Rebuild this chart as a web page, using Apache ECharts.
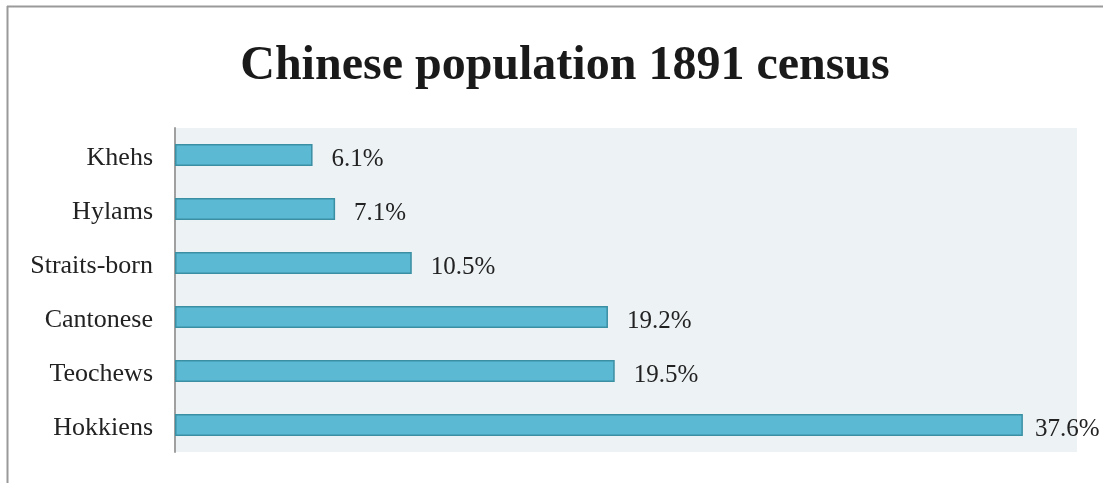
<!DOCTYPE html>
<html>
<head>
<meta charset="utf-8">
<script src="https://cdn.jsdelivr.net/npm/echarts@6/dist/echarts.min.js"></script>
<style>
  html, body { margin: 0; padding: 0; background: #fff; }
  #chart { width: 1103px; height: 483px; }
</style>
</head>
<body>
<div id="chart"></div>
<script>
// Dialect groups, listed bottom to top on the category axis
const groups = ['Hokkiens', 'Teochews', 'Cantonese', 'Straits-born', 'Hylams', 'Khehs'];
// Share of the Chinese population (%)
const shares = [37.6, 19.5, 19.2, 10.5, 7.1, 6.1];
const titleText = 'Chinese population 1891 census';

const serif = '"Liberation Serif", "DejaVu Serif", serif';
const chart = echarts.init(document.getElementById('chart'), null, { renderer: 'canvas' });

// The longest bar's label sits closer so it stays inside the canvas
const barData = shares.map(v => v === Math.max(...shares) ? { value: v, label: { distance: 12 } } : v);

chart.setOption({
  animation: false,
  backgroundColor: '#ffffff',
  title: {
    text: titleText,
    left: 560,
    textAlign: 'center',
    top: 38,
    textStyle: { fontFamily: serif, fontSize: 48, fontWeight: 'bold', color: '#1a1a1a' }
  },
  graphic: [
    { type: 'line', shape: { x1: 7, y1: 6.5, x2: 1103, y2: 6.5 }, style: { stroke: '#9a9a9a', lineWidth: 2 } },
    { type: 'line', shape: { x1: 7.5, y1: 6, x2: 7.5, y2: 483 }, style: { stroke: '#9a9a9a', lineWidth: 2 } }
  ],
  grid: {
    left: 175, top: 128, width: 902, height: 324,
    show: true, backgroundColor: '#edf2f5', borderWidth: 0
  },
  xAxis: {
    type: 'value', min: 0, max: 40,
    axisLine: { show: false }, axisTick: { show: false },
    axisLabel: { show: false }, splitLine: { show: false }
  },
  yAxis: {
    type: 'category', data: groups,
    axisLine: { show: true, lineStyle: { color: '#a0a0a0', width: 2 } },
    axisTick: { show: false },
    axisLabel: {
      margin: 22,
      formatter: v => '{c|' + v + '}',
      rich: { c: { fontFamily: serif, fontSize: 26, color: '#222', padding: [7, 0, 0, 0] } }
    }
  },
  series: [{
    type: 'bar',
    data: barData,
    barWidth: 22,
    itemStyle: { color: '#5bb9d3', borderColor: '#3b8fa3', borderWidth: 1.5 },
    label: {
      show: true, position: 'right', distance: 19, offset: [0, 4],
      fontFamily: serif, fontSize: 25, color: '#222',
      formatter: p => p.value.toFixed(1) + '%'
    }
  }]
});
</script>
</body>
</html>
